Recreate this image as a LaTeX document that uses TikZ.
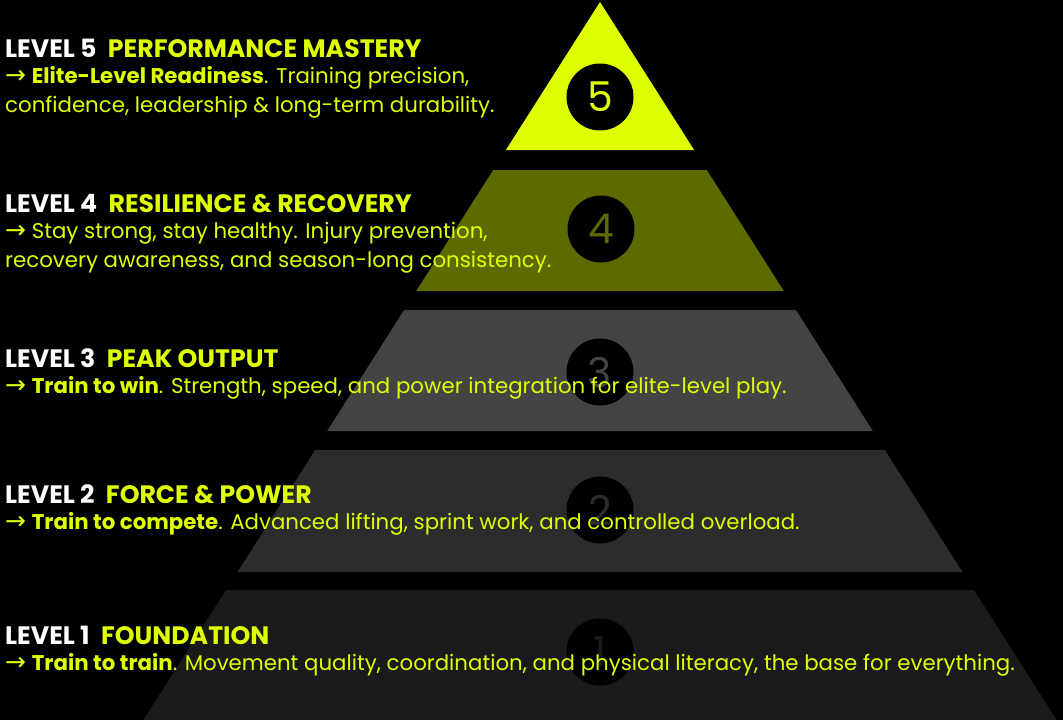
\documentclass[tikz,border=0pt]{standalone}
\usepackage{fontspec}
\setmainfont{Poppins}
\newfontfamily\arrowfont{DejaVu Sans}
\definecolor{lime}{HTML}{DFFF00}
\definecolor{lvfour}{HTML}{5E6A00}
\definecolor{lvthree}{HTML}{444444}
\definecolor{lvtwo}{HTML}{2C2C2C}
\definecolor{lvone}{HTML}{1A1A1A}
\tikzset{
  numcircle/.style={circle, fill=black, minimum size=67pt, inner sep=0pt, font=\fontsize{41}{41}\selectfont},
  leveltitle/.style={anchor=base west, inner sep=0pt, font=\fontsize{25.2}{29}\selectfont\bfseries, text=white},
  bodyline/.style={anchor=base west, inner sep=0pt, font=\fontsize{21.3}{25}\selectfont, text=lime},
}
\newcommand{\arr}{{\arrowfont\fontsize{25}{25}\selectfont →}}
\newcommand{\hl}[1]{\textcolor{lime}{#1}}
\begin{document}
\begin{tikzpicture}[x=1pt,y=-1pt]
\fill[black] (0,0) rectangle (1063,720);
\useasboundingbox (0,0) rectangle (1063,720);
% layers
\fill[lime]   (600,2) -- (694.1,150) -- (505.9,150) -- cycle;
\fill[lvfour] (493.2,170) -- (706.8,170) -- (783.8,291) -- (416.2,291) -- cycle;
\fill[lvthree] (404.1,310) -- (795.9,310) -- (872.8,431) -- (327.2,431) -- cycle;
\fill[lvtwo]  (315.1,450) -- (884.9,450) -- (962.5,572) -- (237.5,572) -- cycle;
\fill[lvone]  (226,590) -- (974,590) -- (1056.6,720) -- (143.4,720) -- cycle;
% number badges
\node[numcircle, text=lime]    (n5) at (600,97)  {5};
\node[numcircle, text=lvfour]  (n4) at (601,229) {4};
\node[numcircle, text=lvthree] (n3) at (600,372) {3};
\node[numcircle, text=lvtwo]   (n2) at (600,510) {2};
\node[numcircle, text=lvone]   (n1) at (600,652) {1};
% level 5
\node[leveltitle] (t5) at (5,57) {LEVEL 5\hspace{0.45em}\hl{PERFORMANCE MASTERY}};
\node[bodyline] (t5a) at (5,83) {\arr\ \textbf{Elite-Level Readiness}. Training precision,};
\node[bodyline] (t5b) at (5,112.5) {confidence, leadership \& long-term durability.};
% level 4
\node[leveltitle] (t4) at (5,212) {LEVEL 4\hspace{0.45em}\hl{RESILIENCE \& RECOVERY}};
\node[bodyline] (t4a) at (5,238) {\arr\ Stay strong, stay healthy. Injury prevention,};
\node[bodyline] (t4b) at (5,267) {recovery awareness, and season-long consistency.};
% level 3
\node[leveltitle] (t3) at (5,367) {LEVEL 3\hspace{0.45em}\hl{PEAK OUTPUT}};
\node[bodyline] (t3a) at (5,393) {\arr\ \textbf{Train to win}. Strength, speed, and power integration for elite-level play.};
% level 2
\node[leveltitle] (t2) at (5,503) {LEVEL 2\hspace{0.45em}\hl{FORCE \& POWER}};
\node[bodyline] (t2a) at (5,529) {\arr\ \textbf{Train to compete}. Advanced lifting, sprint work, and controlled overload.};
% level 1
\node[leveltitle] (t1) at (5,644) {LEVEL 1\hspace{0.45em}\hl{FOUNDATION}};
\node[bodyline] (t1a) at (5,670) {\arr\ \textbf{Train to train}. Movement quality, coordination, and physical literacy, the base for everything.};
\end{tikzpicture}
\end{document}
